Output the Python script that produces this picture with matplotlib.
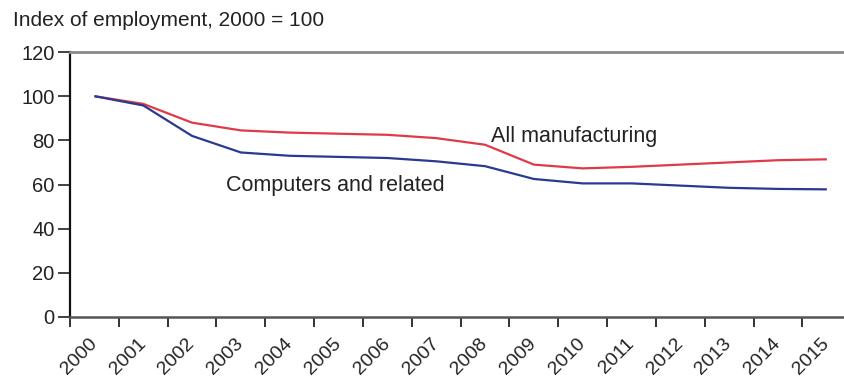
import matplotlib.pyplot as plt
import numpy as np

# 数据 (index of employment, 2000 = 100)
years = list(range(2000, 2016))
all_manufacturing = [100, 96.5, 88, 84.5, 83.5, 83, 82.5, 81, 78, 69, 67.3, 68, 69, 70, 71, 71.4]
computers_related = [100, 95.8, 82, 74.5, 73, 72.5, 72, 70.5, 68.3, 62.5, 60.5, 60.5, 59.5, 58.5, 58, 57.8]
year_labels = [str(y) for y in years]
y_ticks = [0, 20, 40, 60, 80, 100, 120]

plt.rcParams['font.family'] = ['Liberation Sans', 'DejaVu Sans']
text_color = '#222222'

fig = plt.figure(figsize=(8.45, 3.83), dpi=100)
ax = fig.add_axes([70 / 845, 66 / 383, 773 / 845, 265 / 383])

# 每年的值画在年份中间
x_mid = np.array(years) + 0.5
ax.plot(x_mid, all_manufacturing, color='#e03a48', linewidth=1.6, solid_capstyle='butt')
ax.plot(x_mid, computers_related, color='#2b3990', linewidth=1.6, solid_capstyle='butt')

ax.set_xlim(2000, 2015.83)
ax.set_ylim(0, 120)

# 坐标轴
for side in ['right']:
    ax.spines[side].set_visible(False)
ax.spines['left'].set_color('#111111')
ax.spines['left'].set_linewidth(1.6)
ax.spines['bottom'].set_color('#555555')
ax.spines['bottom'].set_linewidth(1.8)
ax.spines['top'].set_color('#8a8a8a')
ax.spines['top'].set_linewidth(2)

ax.set_yticks(y_ticks)
ax.set_yticklabels([str(v) for v in y_ticks], fontsize=14.5, color=text_color)
ax.tick_params(axis='y', length=9, width=1.3, color='#333333', pad=2)

# 刻度线在年份边界, 标签在年份中间
ax.set_xticks(years)
ax.set_xticklabels([])
ax.tick_params(axis='x', which='major', length=7, width=1.4, color='#333333')
ax.set_xticks(x_mid + 0.12, minor=True)
ax.set_xticklabels(year_labels, minor=True, rotation=45, ha='right', va='top',
                   fontsize=14, color=text_color)
ax.tick_params(axis='x', which='minor', length=0, pad=13)

# 线的标签
ax.text(2008.62, 79.4, 'All manufacturing', fontsize=15.5, color=text_color,
        ha='left', va='baseline')
ax.text(2003.2, 57, 'Computers and related', fontsize=15.5, color=text_color,
        ha='left', va='baseline')

fig.text(13 / 845, 1 - 20 / 383, 'Index of employment, 2000 = 100', fontsize=15,
         color=text_color, ha='left', va='center')

fig.savefig('out.png', dpi=100)
